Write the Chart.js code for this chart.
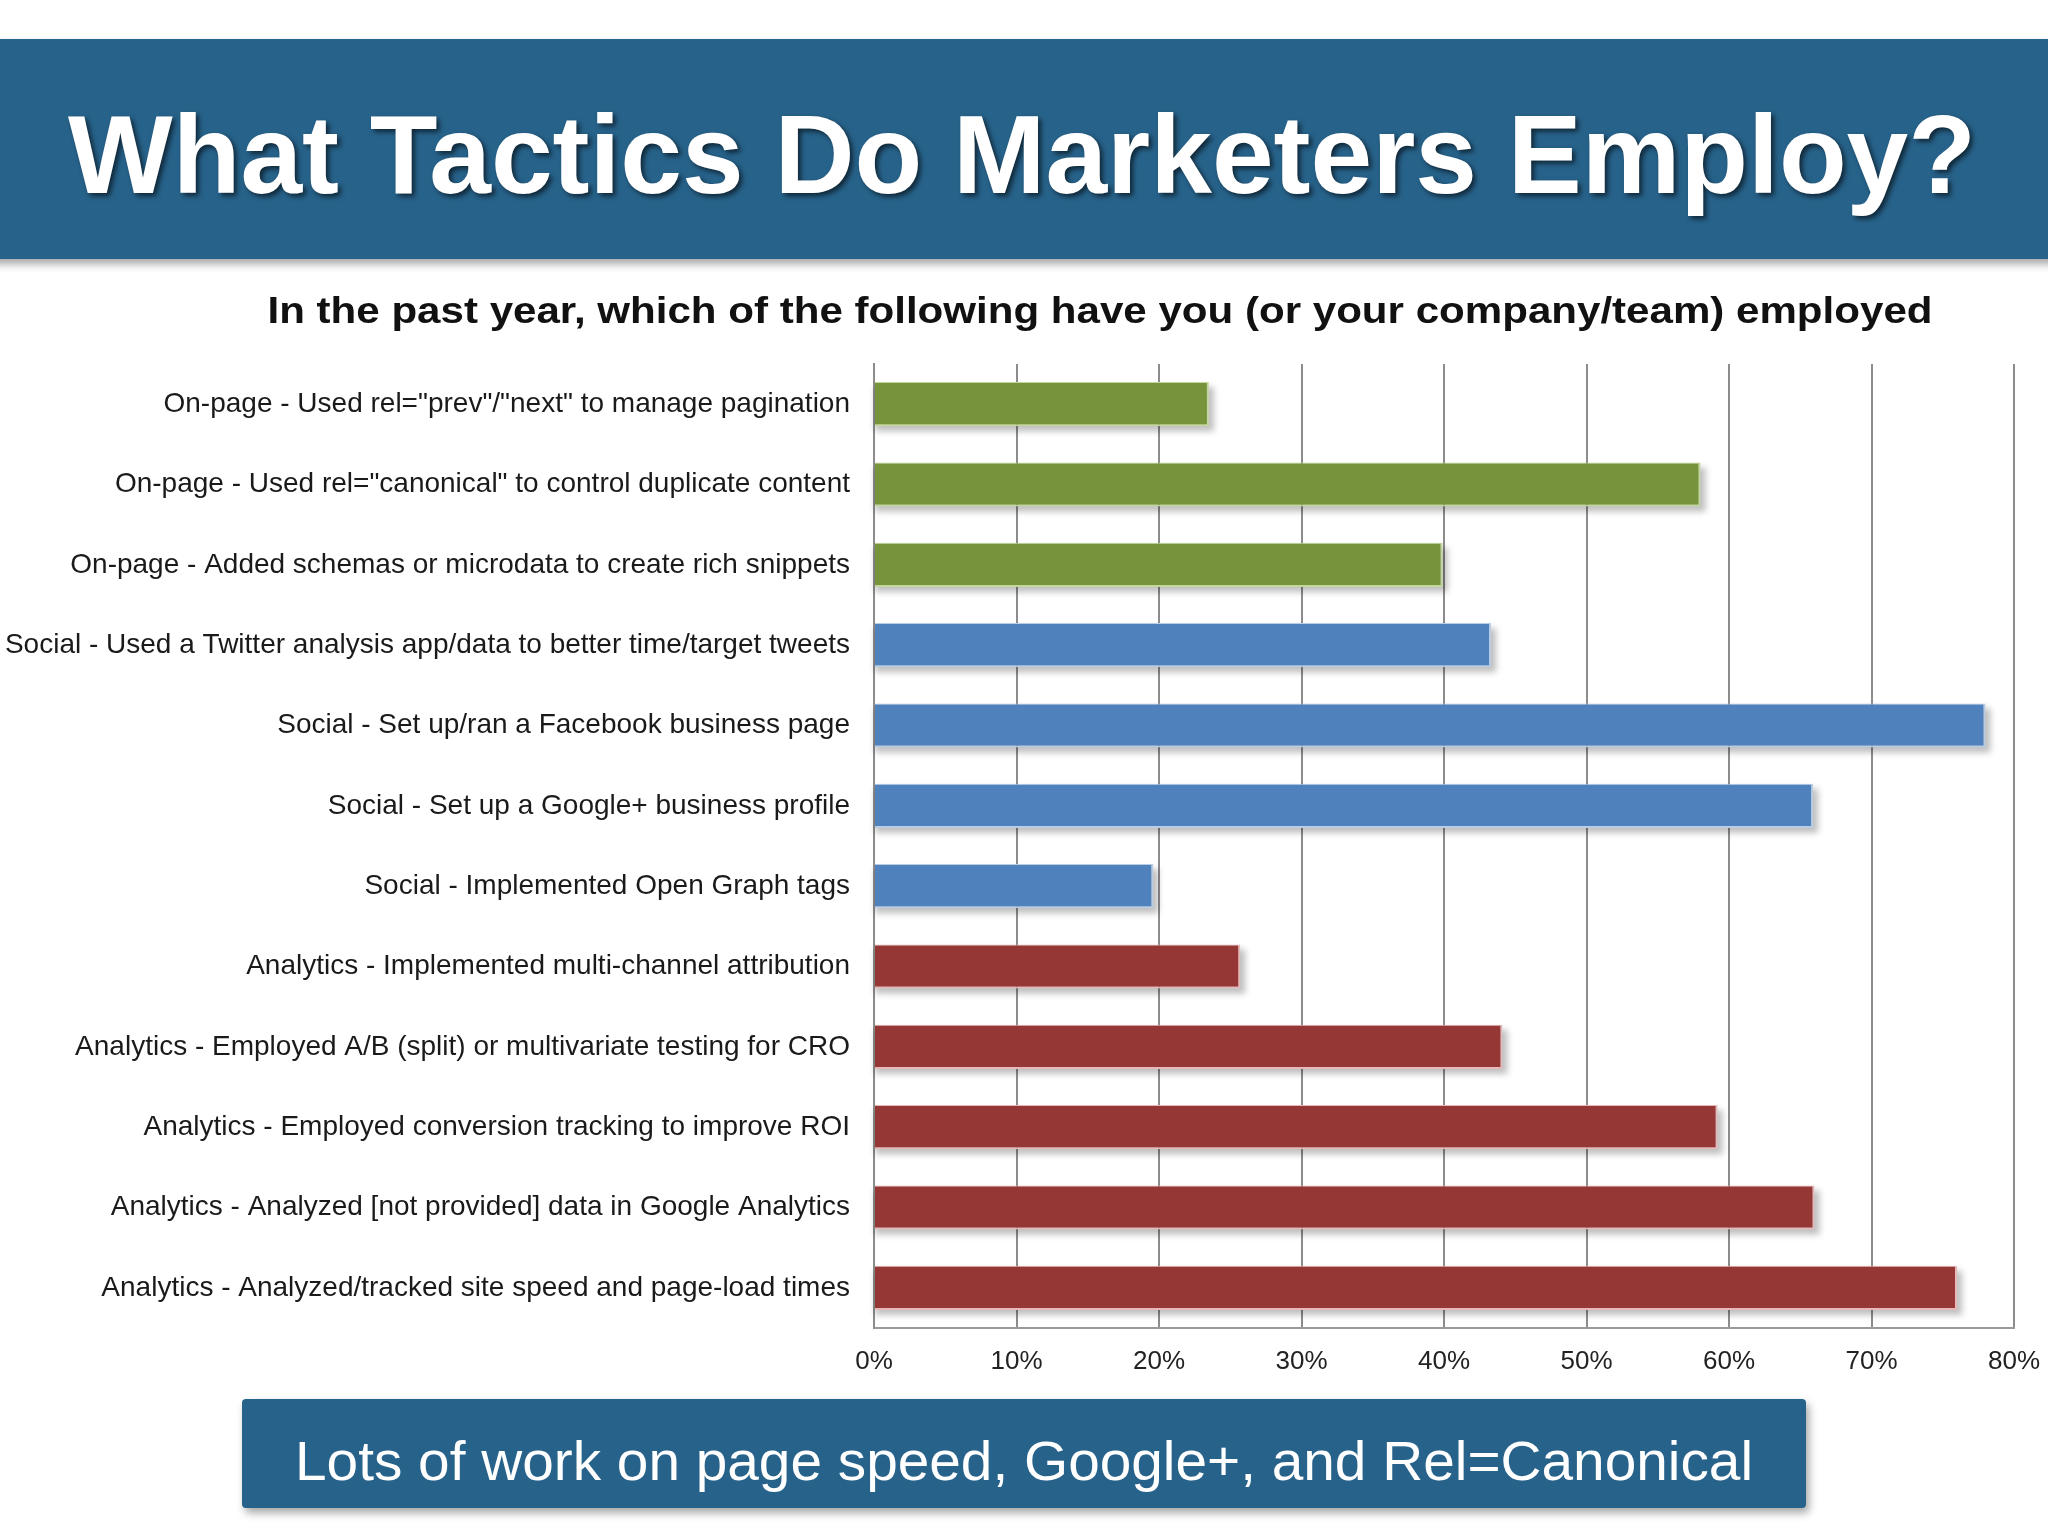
<!DOCTYPE html>
<html>
<head>
<meta charset="utf-8">
<script src="https://cdn.jsdelivr.net/npm/chart.js@4.4.1/dist/chart.umd.min.js"></script>
<style>
  html, body { margin: 0; padding: 0; background: #fff; }
  #wrap { width: 2048px; height: 1536px; }
</style>
</head>
<body>
<div id="wrap"><canvas id="tactics" width="2048" height="1536"></canvas></div>
<script>
const titleText = 'What Tactics Do Marketers Employ?';
const subtitleText = 'In the past year, which of the following have you (or your company/team) employed';
const footerText = 'Lots of work on page speed, Google+, and Rel=Canonical';

const categories = [
    'On-page - Used rel="prev"/"next" to manage pagination',
    'On-page - Used rel="canonical" to control duplicate content',
    'On-page - Added schemas or microdata to create rich snippets',
    'Social - Used a Twitter analysis app/data to better time/target tweets',
    'Social - Set up/ran a Facebook business page',
    'Social - Set up a Google+ business profile',
    'Social - Implemented Open Graph tags',
    'Analytics - Implemented multi-channel attribution',
    'Analytics - Employed A/B (split) or multivariate testing for CRO',
    'Analytics - Employed conversion tracking to improve ROI',
    'Analytics - Analyzed [not provided] data in Google Analytics',
    'Analytics - Analyzed/tracked site speed and page-load times'
];
const values = [23.5, 58.0, 39.9, 43.3, 78.0, 65.9, 19.6, 25.7, 44.1, 59.2, 66.0, 76.0];
const groups = ['On-page', 'On-page', 'On-page', 'Social', 'Social', 'Social', 'Social',
    'Analytics', 'Analytics', 'Analytics', 'Analytics', 'Analytics'];

const fillColors = { 'On-page': '#77933c', 'Social': '#4f81bd', 'Analytics': '#953735' };
const edgeColors = { 'On-page': '#c4d79b', 'Social': '#b8cce4', 'Analytics': '#e6b8b7' };

const BLUE = '#27628a';

function fitText(ctx, text, cx, baseline, width) {
    const w = ctx.measureText(text).width;
    ctx.save();
    ctx.translate(cx, baseline);
    ctx.scale(width / w, 1);
    ctx.fillText(text, 0, 0);
    ctx.restore();
}

// header band, titles and the footer box
const decorations = {
    id: 'decorations',
    beforeDraw(chart) {
        const ctx = chart.ctx;
        ctx.save();
        ctx.fillStyle = '#fff';
        ctx.fillRect(0, 0, chart.width, chart.height);

        // header band with soft shadow
        ctx.save();
        ctx.shadowColor = 'rgba(0,0,0,0.35)';
        ctx.shadowOffsetY = 5;
        ctx.shadowBlur = 8;
        ctx.fillStyle = BLUE;
        ctx.fillRect(-10, 39, chart.width + 20, 220);
        ctx.restore();

        ctx.save();
        ctx.font = 'bold 112px "Liberation Sans", Arial, sans-serif';
        ctx.textAlign = 'center';
        ctx.textBaseline = 'alphabetic';
        ctx.fillStyle = '#fff';
        ctx.shadowColor = 'rgba(0,0,0,0.6)';
        ctx.shadowOffsetX = 3;
        ctx.shadowOffsetY = 3;
        ctx.shadowBlur = 5;
        fitText(ctx, titleText, 1022, 193, 1908);
        ctx.restore();

        ctx.save();
        ctx.font = 'bold 37px "Liberation Sans", Arial, sans-serif';
        ctx.textAlign = 'center';
        ctx.fillStyle = '#111';
        fitText(ctx, subtitleText, 1100, 323, 1665);
        ctx.restore();

        // footer box
        ctx.save();
        ctx.shadowColor = 'rgba(0,0,0,0.35)';
        ctx.shadowOffsetX = 3;
        ctx.shadowOffsetY = 5;
        ctx.shadowBlur = 8;
        ctx.fillStyle = BLUE;
        ctx.beginPath();
        ctx.roundRect(242, 1399, 1564, 109, 4);
        ctx.fill();
        ctx.restore();

        ctx.save();
        ctx.font = '56px "Liberation Sans", Arial, sans-serif';
        ctx.textAlign = 'center';
        ctx.fillStyle = '#fff';
        fitText(ctx, footerText, 1024, 1480, 1458);
        ctx.restore();
        ctx.restore();
    },
    // drop shadow under each bar
    beforeDatasetsDraw(chart) {
        const ctx = chart.ctx;
        ctx.save();
        ctx.filter = 'blur(3px)';
        ctx.fillStyle = 'rgba(0,0,0,0.25)';
        chart.getDatasetMeta(0).data.forEach(bar => {
            const p = bar.getProps(['x', 'y', 'base', 'height'], true);
            ctx.fillRect(p.base, p.y - p.height / 2 + 5, p.x - p.base + 5, p.height);
        });
        ctx.restore();
    }
};

new Chart(document.getElementById('tactics').getContext('2d'), {
    type: 'bar',
    data: {
        labels: categories,
        datasets: [{
            data: values,
            backgroundColor: groups.map(g => fillColors[g]),
            borderColor: groups.map(g => edgeColors[g]),
            borderWidth: { top: 1, right: 2, bottom: 2, left: 0 },
            borderSkipped: false,
            barPercentage: 0.55,
            categoryPercentage: 1.0
        }]
    },
    options: {
        indexAxis: 'y',
        responsive: false,
        animation: false,
        devicePixelRatio: 1,
        layout: { padding: { left: 0, right: 34, top: 364, bottom: 148 } },
        plugins: {
            legend: { display: false },
            tooltip: { enabled: false }
        },
        scales: {
            x: {
                min: 0,
                max: 80,
                ticks: {
                    stepSize: 10,
                    callback: v => v + '%',
                    font: { family: '"Liberation Sans", Arial, sans-serif', size: 26 },
                    color: '#222',
                    padding: 18,
                    maxRotation: 0
                },
                grid: { color: '#8c8c8c', lineWidth: 2, drawTicks: false },
                border: { color: '#9a9a9a', width: 2 },
                afterFit: s => { s.height = 60; s.paddingLeft = 0; s.paddingRight = 0; }
            },
            y: {
                ticks: {
                    font: { family: '"Liberation Sans", Arial, sans-serif', size: 28 },
                    color: '#1a1a1a',
                    padding: 16,
                    autoSkip: false
                },
                grid: { display: false },
                border: { color: '#8c8c8c', width: 2 },
                afterFit: s => { s.width = 874; s.paddingTop = 0; s.paddingBottom = 0; }
            }
        }
    },
    plugins: [decorations]
});
</script>
</body>
</html>
